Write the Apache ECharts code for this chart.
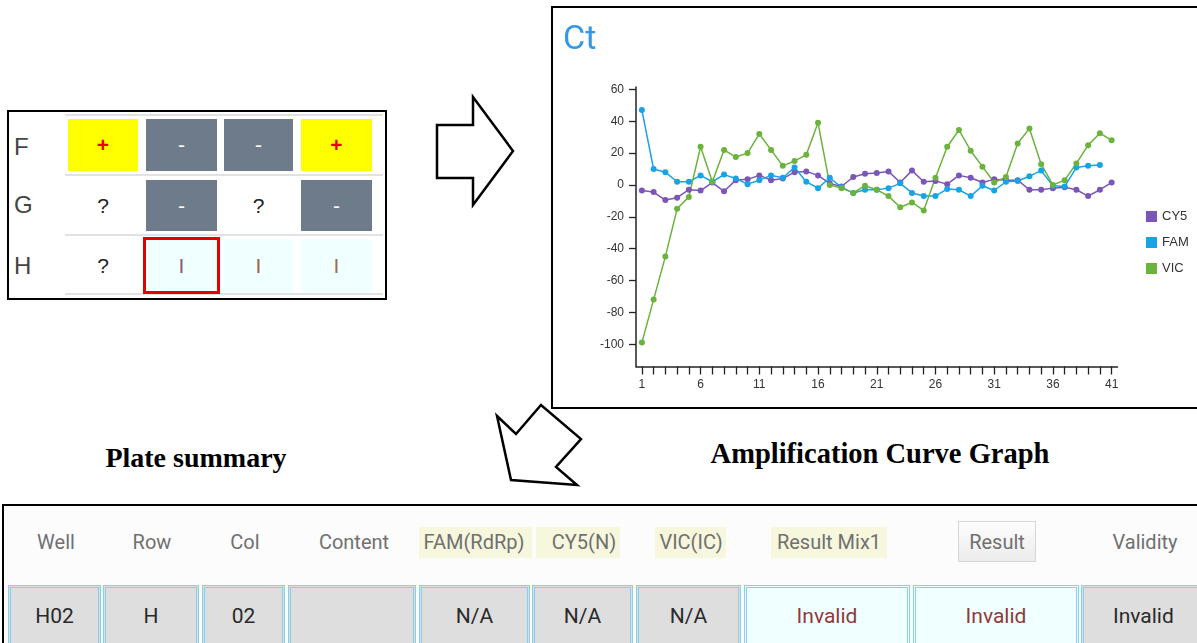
<!DOCTYPE html>
<html>
<head>
<meta charset="utf-8">
<script src="https://cdn.jsdelivr.net/npm/echarts@6/dist/echarts.min.js"></script>
<style>
  html, body { margin:0; padding:0; background:#fff; }
  body { width:1197px; height:643px; position:relative; overflow:hidden; font-family:"Liberation Sans", Arial, sans-serif; }
  .abs { position:absolute; }
  #chart { position:absolute; left:0; top:0; width:1197px; height:643px; z-index:2; pointer-events:none; }
  .plate { left:7px; top:110px; width:376px; height:186px; border:2px solid #000; }
  .pl-line { position:absolute; height:2px; background:#e2e2e2; }
  .rowlab { position:absolute; font-size:24px; color:#444; }
  .cell { position:absolute; display:flex; align-items:center; justify-content:center; font-size:21px; }
  .yel { background:#ffff00; color:#e8000b; font-weight:bold; }
  .gry { background:#6e7b8b; color:#fff; }
  .azu { background:#f0ffff; color:#a0604f; }
  .cap { position:absolute; font-family:"Liberation Serif","Times New Roman",serif; font-weight:bold; font-size:28px; color:#000; white-space:nowrap; transform:translate(-50%,-50%); }
  .ctbox { left:551px; top:6px; width:700px; height:399px; border:2px solid #000; }
  .tbl { left:2px; top:504px; width:1300px; height:200px; border:2px solid #000; background:#fcfcfc; }
  .hd { position:absolute; font-family:Roboto,"Noto Sans",sans-serif; font-size:20px; color:#707070; transform:translate(-50%,-50%); white-space:nowrap; }
  .hl { position:absolute; background:#f7f7dd; }
  .btn { position:absolute; left:958px; top:521px; width:78px; height:41px; border:1px solid #d6d6d6; background:linear-gradient(#fdfdfd,#ececec); box-sizing:border-box; }
  .dc { position:absolute; top:585px; height:80px; box-sizing:border-box; border:3px double #86cfee; background:#dedede; font-family:Roboto,"Noto Sans",sans-serif; font-size:21px; color:#2a2a2a; display:flex; justify-content:center; padding-top:16px; }
  .dc.inv { background:#f0ffff; color:#8e3a3a; }
</style>
</head>
<body>
<!-- Plate summary -->
<div class="abs plate"></div>
<div class="pl-line" style="left:65px; top:114px; width:318px;"></div>
<div class="pl-line" style="left:65px; top:174px; width:318px;"></div>
<div class="pl-line" style="left:65px; top:234px; width:318px;"></div>
<div class="pl-line" style="left:65px; top:293px; width:318px;"></div>
<div class="rowlab" style="left:14px; top:133px;">F</div>
<div class="rowlab" style="left:14px; top:191px;">G</div>
<div class="rowlab" style="left:14px; top:252px;">H</div>

<div class="cell yel" style="left:68px; top:119px; width:70px; height:52px;">+</div>
<div class="cell gry" style="left:146px; top:119px; width:71px; height:52px;">-</div>
<div class="cell gry" style="left:224px; top:119px; width:69px; height:52px;">-</div>
<div class="cell yel" style="left:301px; top:119px; width:71px; height:52px;">+</div>

<div class="cell" style="left:68px; top:180px; width:70px; height:51px; color:#222;">?</div>
<div class="cell gry" style="left:146px; top:180px; width:71px; height:51px;">-</div>
<div class="cell" style="left:224px; top:180px; width:69px; height:51px; color:#222;">?</div>
<div class="cell gry" style="left:301px; top:180px; width:71px; height:51px;">-</div>

<div class="cell" style="left:68px; top:239px; width:70px; height:54px; color:#222;">?</div>
<div class="cell azu" style="left:143px; top:237px; width:77px; height:57px; box-sizing:border-box; border:3px solid #e50000; color:#8a5a70;">I</div>
<div class="cell azu" style="left:224px; top:239px; width:69px; height:54px;">I</div>
<div class="cell azu" style="left:301px; top:239px; width:71px; height:54px; color:#a07040;">I</div>

<!-- arrows -->
<svg class="abs" style="left:0; top:0; z-index:3;" width="1197" height="643">
  <polygon points="437,125 473,125 473,97 513,151 473,205 473,178 437,178" fill="#fff" stroke="#000" stroke-width="2.5" stroke-linejoin="miter"/>
  <polygon points="497,416 516,434 541,405 581,439 556,467 577,485 511,480" fill="#fff" stroke="#000" stroke-width="2.5" stroke-linejoin="miter"/>
</svg>

<!-- captions -->
<div class="cap" style="left:196px; top:458px;">Plate summary</div>
<div class="cap" style="left:880px; top:454px; font-size:28.5px;">Amplification Curve Graph</div>

<!-- chart box -->
<div class="abs ctbox"></div>

<!-- bottom table -->
<div class="abs tbl"></div>
<div class="hl" style="left:419px; top:527px; width:113px; height:31px;"></div>
<div class="hl" style="left:536px; top:527px; width:84px; height:31px;"></div>
<div class="hl" style="left:655px; top:527px; width:71px; height:31px;"></div>
<div class="hl" style="left:771px; top:527px; width:116px; height:31px;"></div>
<div class="btn"></div>
<div class="hd" style="left:56px; top:542px;">Well</div>
<div class="hd" style="left:152px; top:542px;">Row</div>
<div class="hd" style="left:245px; top:542px;">Col</div>
<div class="hd" style="left:354px; top:542px;">Content</div>
<div class="hd" style="left:474px; top:542px;">FAM(RdRp)</div>
<div class="hd" style="left:584px; top:542px;">CY5(N)</div>
<div class="hd" style="left:691px; top:542px;">VIC(IC)</div>
<div class="hd" style="left:829px; top:542px;">Result Mix1</div>
<div class="hd" style="left:997px; top:542px;">Result</div>
<div class="hd" style="left:1145px; top:542px;">Validity</div>

<div class="dc" style="left:8px; width:93px;">H02</div>
<div class="dc" style="left:103px; width:96px;">H</div>
<div class="dc" style="left:202px; width:83px;">02</div>
<div class="dc" style="left:288px; width:128px;"></div>
<div class="dc" style="left:419px; width:111px;">N/A</div>
<div class="dc" style="left:532px; width:101px;">N/A</div>
<div class="dc" style="left:636px; width:105px;">N/A</div>
<div class="dc inv" style="left:744px; width:166px;">Invalid</div>
<div class="dc inv" style="left:913px; width:166px;">Invalid</div>
<div class="dc" style="left:1081px; width:130px; justify-content:flex-start; padding-left:29px;">Invalid</div>

<div id="chart"></div>
<script>
// ---- data ----
const cycles = [1,2,3,4,5,6,7,8,9,10,11,12,13,14,15,16,17,18,19,20,21,22,23,24,25,26,27,28,29,30,31,32,33,34,35,36,37,38,39,40,41];
const xTickLabels = [1,6,11,16,21,26,31,36,41];
const yTickLabels = [-100,-80,-60,-40,-20,0,20,40,60];
const seriesNames = ['CY5','FAM','VIC'];
const cy5 = [-3.5,-4.5,-9.5,-8,-3,-3.5,1.5,-4,3,3.5,6,3,4,8,8.5,6,1,-1,5,7,7.5,8.5,1.5,9,2,2.5,0.5,6,4.5,1.5,3.5,3,3,-3,-3,-2,-1.5,-3,-7,-3,1.5];
const fam = [47,10,8,2,2,6,2,6.5,4,0.5,3,6,4.5,11,2,-2,4.5,-1.5,-5,-3,-3,-2,1,-5,-7,-7,-2.5,-3,-7,-0.5,-3.5,2,2.5,5.5,9,-0.5,-1,11,12,12.5];
const vic = [-99,-72,-45,-15,-7.5,24,2,22,17.5,20,32,22,12,15,19,39,0,-2,-5,-0.5,-3,-7,-14,-11,-16,4.5,24,34.5,21.5,11.5,1.5,5,26,35.5,13,0,3,13.5,25,32.5,28];

const colors = ['#7b55b8','#17a3e6','#6bb33c'];
function pts(arr){ return arr.map((v,i)=>[cycles[i], v]); }

const chart = echarts.init(document.getElementById('chart'), null, {renderer:'canvas'});
const axisFont = {fontFamily:'"Liberation Sans", Arial, sans-serif', fontSize:12, color:'#333'};
chart.setOption({
  animation:false,
  title:{ text:'Ct', left:558, top:18, textStyle:{ fontFamily:'Roboto, sans-serif', fontWeight:'normal', fontSize:34, color:'#3399e6' } },
  legend:{
    orient:'vertical', left:1141, top:205, icon:'rect', itemWidth:11, itemHeight:11, itemGap:13,
    textStyle:{ fontFamily:'"Liberation Sans", Arial, sans-serif', fontSize:13, color:'#333' },
    data: seriesNames
  },
  grid:{ left:636, right:79.5, top:87, bottom:276.5 },
  xAxis:{
    type:'value', min:0.5, max:41.5,
    axisLine:{ onZero:false, lineStyle:{ color:'#222', width:1.5 } },
    axisTick:{ customValues: cycles, length:8, lineStyle:{ color:'#222', width:1.3 } },
    axisLabel:{ customValues: xTickLabels, margin:12, ...axisFont },
    splitLine:{ show:false }
  },
  yAxis:{
    type:'value', min:-114, max:61.5,
    axisLine:{ show:true, onZero:false, lineStyle:{ color:'#222', width:1.5 } },
    axisTick:{ show:true, customValues: yTickLabels, length:7, lineStyle:{ color:'#222', width:1.3 } },
    axisLabel:{ customValues: yTickLabels, margin:12, ...axisFont },
    splitLine:{ show:false }
  },
  series:[
    { name:seriesNames[0], type:'line', data:pts(cy5), color:colors[0], symbol:'circle', symbolSize:6, lineStyle:{width:1.5} },
    { name:seriesNames[1], type:'line', data:pts(fam), color:colors[1], symbol:'circle', symbolSize:6, lineStyle:{width:1.5} },
    { name:seriesNames[2], type:'line', data:pts(vic), color:colors[2], symbol:'circle', symbolSize:6, lineStyle:{width:1.5} }
  ]
});
</script>
</body>
</html>
